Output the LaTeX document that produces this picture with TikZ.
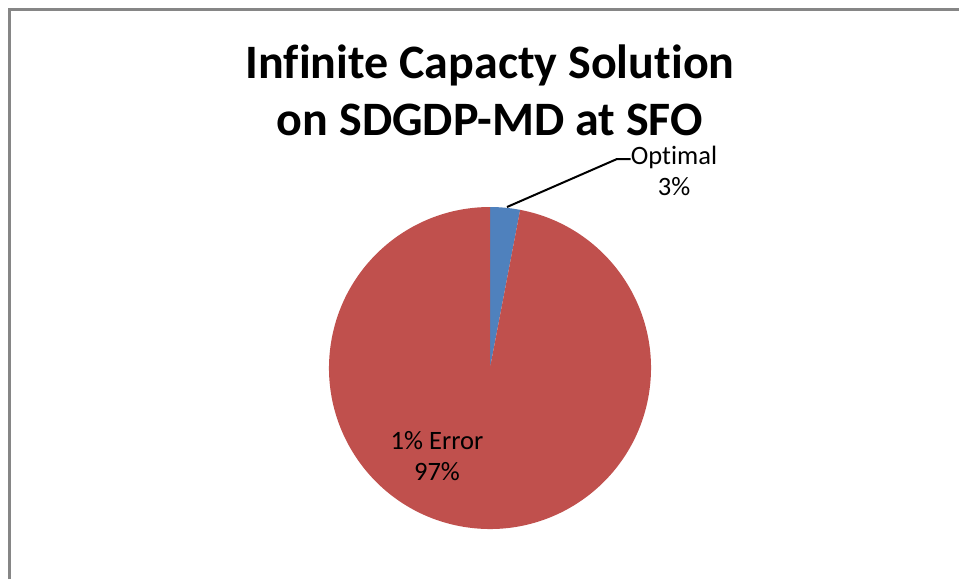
\documentclass[tikz,border=0pt]{standalone}
\usepackage{fontspec}
\setmainfont[Ligatures={NoCommon}]{Carlito}
\definecolor{pieblue}{HTML}{4F81BD}
\definecolor{piered}{HTML}{C0504D}
\definecolor{framegray}{HTML}{868686}
\tikzset{
  lbl/.style={font=\fontsize{26.5}{31}\selectfont, align=center, inner sep=0pt},
  ttl/.style={font=\bfseries\fontsize{48}{57}\selectfont, align=center, inner sep=0pt},
}
\begin{document}
\begin{tikzpicture}[x=1pt,y=-1pt]
\useasboundingbox (0,0) rectangle (959,579);
\fill[white] (0,0) rectangle (959,579);
\draw[framegray, line width=2.2pt] (9.5,579) -- (9.5,9.5) -- (959,9.5);
\coordinate (c) at (490,368);
% blue slice (3%)
\fill[pieblue] (c) -- ++(0,-161) arc[start angle=-90, end angle=-79.2, radius=161] -- cycle;
% red slice (97%)
\fill[piered] (c) -- ++(-79.2:161) arc[start angle=-79.2, end angle=270, radius=161] -- cycle;
\node[ttl] (title) at (490,90) {Infinite Capacty Solution\\on SDGDP-MD at SFO};
\node[lbl] (opt) at (674,171) {Optimal\\3\%};
\node[lbl] (err) at (437,456) {1\% Error\\97\%};
\coordinate (tip) at (507,207);
\coordinate (bend) at (617,159);
\draw[black, line width=2pt] (tip) -- (bend) -- (opt.west |- bend);
\end{tikzpicture}
\end{document}
